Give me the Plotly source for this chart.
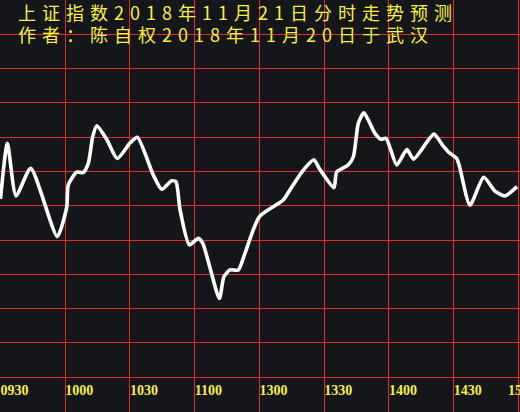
import plotly.graph_objects as go

# minute index from 09:30 (lunch break removed), 0..240
minutes = [0, 3.2, 7.2, 14.0, 26.3, 30.7, 31.4, 35.3, 38.4, 40.7, 42.7, 44.6, 49.2, 54.1,
           60.0, 63.4, 70.8, 74.7, 79.3, 81.3, 83.2, 87.5, 91.6, 93.7, 101.4, 103.5, 106.3,
           110.2, 113.3, 119.9, 131.0, 134.9, 140.3, 145.2, 147.7, 154.5, 155.8, 161.1,
           163.5, 165.8, 168.4, 173.5, 176.2, 178.6, 180.5, 183.6, 188.3, 191.4, 200.8,
           204.8, 207.9, 211.4, 212.7, 217.5, 223.9, 229.1, 233.7, 239.3]
levels = [62.0, 78.2, 62.9, 70.9, 51.0, 59.7, 66.1, 69.8, 69.7, 72.4, 80.1, 83.3, 79.4, 73.8,
          78.3, 80.0, 69.0, 64.8, 67.3, 67.0, 58.8, 48.6, 50.5, 49.1, 33.0, 39.3, 41.3,
          41.3, 46.2, 56.8, 61.7, 65.4, 70.4, 73.4, 70.9, 65.3, 69.9, 71.9,
          74.3, 84.1, 87.1, 81.1, 79.4, 79.7, 76.9, 71.9, 76.4, 73.6, 80.9,
          77.7, 75.5, 73.8, 71.4, 60.2, 68.3, 64.3, 62.9, 65.6]

tick_vals = [0, 30, 60, 90, 120, 150, 180, 210, 240]
tick_text = ["0930", "1000", "1030", "1100", "1300", "1330", "1400", "1430", "1500"]

title_line1 = "上证指数2018年11月21日分时走势预测"
title_line2 = "作者：陈自权2018年11月20日于武汉"

BG = "#151619"
GRID = "#e52b2b"
YEL = "#f8f040"
TICKFONT = dict(family="Liberation Serif", size=14, color=YEL, weight="bold")

fig = go.Figure()
fig.add_trace(go.Scatter(
    x=minutes, y=levels, mode="lines",
    line=dict(color="white", width=3.6, shape="spline", smoothing=0.6),
    hoverinfo="skip", showlegend=False,
))

# last label sits at the right edge (partly cut off, as in the original)
shown_text = tick_text[:-1] + [""]

span = '<span style="font-size:18px;letter-spacing:6px">{}</span>'
title_html = span.format(title_line1) + "<br>" + span.format(title_line2)

fig.update_layout(
    width=520, height=412,
    margin=dict(l=0, r=0, t=0, b=0),
    paper_bgcolor=BG, plot_bgcolor=BG,
    showlegend=False,
    xaxis=dict(
        range=[-0.23, 240.7], tickvals=tick_vals, ticktext=shown_text,
        showgrid=True, gridcolor=GRID, gridwidth=1, zeroline=False, showline=False,
        ticks="", ticklabelposition="inside right", ticklabelstandoff=8,
        tickfont=TICKFONT, fixedrange=True,
    ),
    yaxis=dict(
        range=[-0.12, 120], dtick=10, tick0=0,
        showgrid=True, gridcolor=GRID, gridwidth=1, zeroline=False, showline=False,
        showticklabels=False, ticks="", fixedrange=True,
    ),
    annotations=[
        dict(text=title_html, xref="paper", yref="paper", x=16/520, y=1 - 22.5/412,
             xanchor="left", yanchor="middle", align="left", showarrow=False,
             font=dict(family="Noto Sans CJK SC", size=17, color=YEL)),
        dict(text=tick_text[-1], xref="x", yref="paper", x=tick_vals[-1], y=1 - 390.5/412,
             xanchor="left", yanchor="middle", xshift=-12, showarrow=False,
             font=TICKFONT),
    ],
)

fig.write_html("out.html", config={"displayModeBar": False},
               post_script="document.body.style.margin='0';")
